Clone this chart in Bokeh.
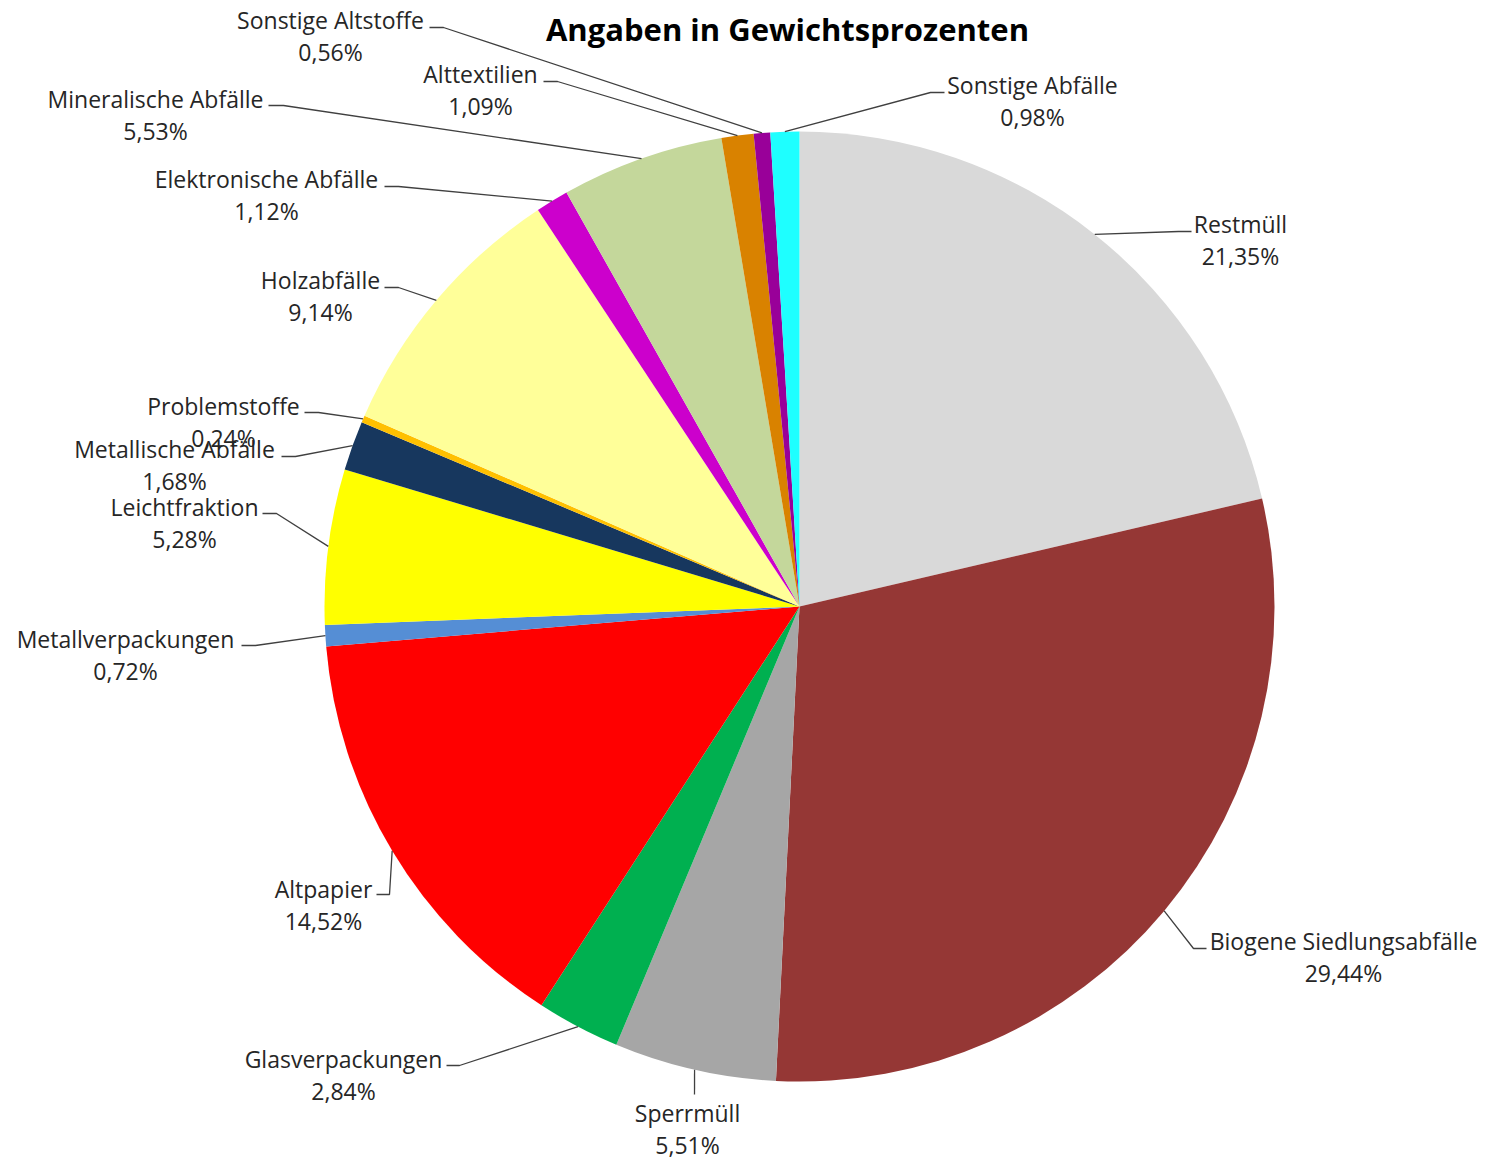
import math
from bokeh.plotting import figure
from bokeh.models import Range1d, ColumnDataSource
from bokeh.core.properties import value
from bokeh.embed import file_html
from bokeh.resources import INLINE

# ---- data ----
categories = ["Restmüll", "Biogene Siedlungsabfälle", "Sperrmüll", "Glasverpackungen",
              "Altpapier", "Metallverpackungen", "Leichtfraktion", "Metallische Abfälle",
              "Problemstoffe", "Holzabfälle", "Elektronische Abfälle", "Mineralische Abfälle",
              "Alttextilien", "Sonstige Altstoffe", "Sonstige Abfälle"]
values = [21.35, 29.44, 5.51, 2.84, 14.52, 0.72, 5.28, 1.68, 0.24, 9.14, 1.12, 5.53, 1.09, 0.56, 0.98]
colors = ["#D9D9D9", "#953735", "#A6A6A6", "#00B050", "#FF0000", "#558ED5", "#FFFF00", "#17375E",
          "#FFC000", "#FFFF99", "#CC00CC", "#C4D79B", "#D98200", "#990099", "#1EFFFF"]
title_text = "Angaben in Gewichtsprozenten"

# ---- layout (picture pixel coordinates) ----
W, H = 1486, 1160
def X(px): return px
def Y(py): return H - py

CX, CY, R = 799, 606, 475
# label name-line centre, leader attach point, leader elbow point
label_layout = [
    ((1240, 223), (1191, 231), (1178, 231)),
    ((1343, 940), (1206, 948), (1193, 948)),
    ((687, 1112), (694, 1094), (694, 1094)),
    ((343, 1058), (446, 1065), (459, 1065)),
    ((323, 888), (376, 894), (389, 894)),
    ((125, 638), (241, 645), (255, 645)),
    ((184, 506), (262, 513), (276, 513)),
    ((174, 448), (281, 456), (295, 456)),
    ((223, 405), (304, 412), (318, 412)),
    ((320, 279), (384, 287), (398, 287)),
    ((266, 178), (384, 186), (398, 186)),
    ((155, 98), (268, 105), (283, 105)),
    ((480, 73), (543, 81), (557, 81)),
    ((330, 19), (429, 27), (443, 27)),
    ((1032, 84), (944, 92), (930, 92)),
]

total = sum(values)
starts, ends, mids = [], [], []
cum = 0.0
for v in values:
    s = cum / total
    cum += v
    e = cum / total
    starts.append(math.pi / 2 - 2 * math.pi * s)
    ends.append(math.pi / 2 - 2 * math.pi * e)
    mids.append(math.pi / 2 - 2 * math.pi * (s + e) / 2)

p = figure(width=W, height=H, x_range=Range1d(0, W), y_range=Range1d(0, H),
           output_backend="svg", toolbar_location=None, min_border=0)
p.axis.visible = False
p.grid.visible = False
p.outline_line_color = None
p.background_fill_color = "white"

src = ColumnDataSource(dict(start=starts, end=ends, color=colors, cat=categories))
p.wedge(x=X(CX), y=Y(CY), radius=R, start_angle="start", end_angle="end",
        direction="clock", fill_color="color", line_color=None, source=src)

font = value("Open Sans")
txt_color = "#262626"
for i, cat in enumerate(categories):
    (tx, ty), (ax, ay), (ex, ey) = label_layout[i]
    m = mids[i]
    px = CX + R * math.cos(m)
    py = CY - R * math.sin(m)
    p.line([X(px), X(ex), X(ax)], [Y(py), Y(ey), Y(ay)], line_color="#404040", line_width=1.3)
    pct = f"{values[i]:.2f}".replace(".", ",") + "%"
    p.text(x=[X(tx), X(tx)], y=[Y(ty), Y(ty + 32)], text=[cat, pct],
           text_font=font, text_font_size="23px", text_color=txt_color,
           text_align="center", text_baseline="middle")

p.text(x=[X(787)], y=[Y(28)], text=[title_text], text_font=font, text_font_size="31px",
       text_font_style="bold", text_color="#000000", text_align="center", text_baseline="middle")

open("out.html", "w").write(file_html(p, INLINE))
